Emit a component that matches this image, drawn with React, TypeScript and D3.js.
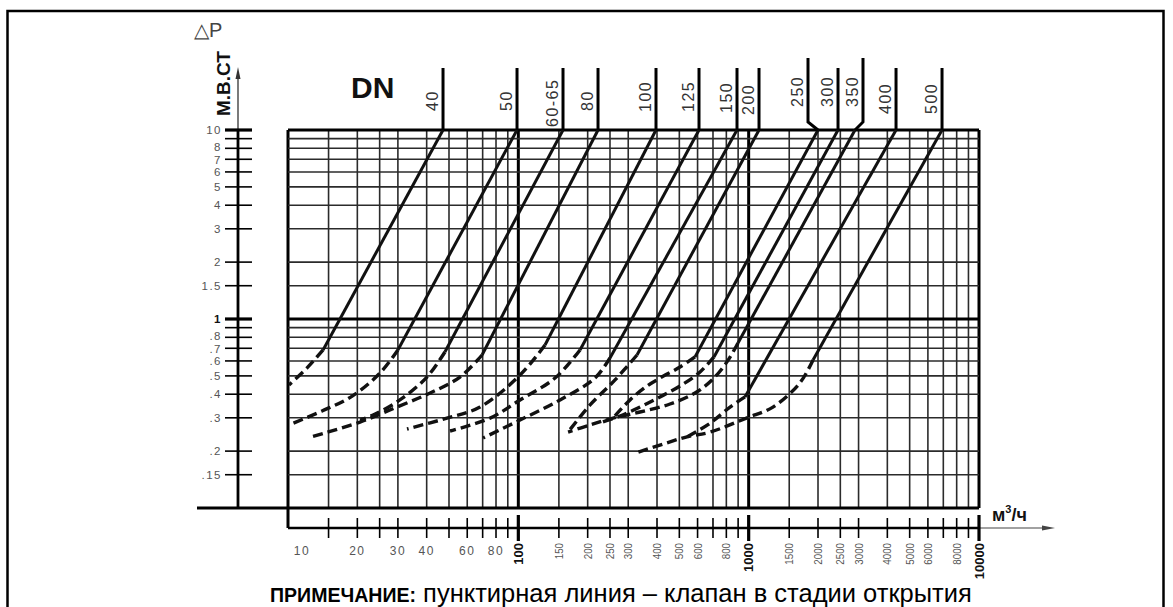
import React from 'react';
import * as d3 from 'd3';

// ---- axis data ----
const flowGrid = [10, 15, 20, 25, 30, 40, 50, 60, 70, 80, 90, 100, 150, 200, 250, 300, 400, 500, 600, 700, 800, 900, 1000, 1500, 2000, 2500, 3000, 4000, 5000, 6000, 7000, 8000, 9000, 10000];
const flowBold = [10, 100, 1000, 10000];
const flowLabelsH = [10, 20, 30, 40, 60, 80];
const flowLabelsV = [100, 150, 200, 250, 300, 400, 500, 600, 800, 1000, 1500, 2000, 2500, 3000, 4000, 5000, 6000, 8000, 10000];

const dpGrid = [10, 9, 8, 7, 6, 5, 4, 3, 2, 1.5, 1, 0.9, 0.8, 0.7, 0.6, 0.5, 0.4, 0.3, 0.2, 0.15, 0.1];
const dpBold = [10, 1];
const dpLabelValues = [10, 8, 7, 6, 5, 4, 3, 2, 1.5, 1, 0.8, 0.7, 0.6, 0.5, 0.4, 0.3, 0.2, 0.15];
const dpLabelTexts = ['10', '8', '7', '6', '5', '4', '3', '2', '1.5', '1', '.8', '.7', '.6', '.5', '.4', '.3', '.2', '.15'];

// ---- curve data (Q m3/h, dP m) ----
const dnNames = ['40', '50', '60-65', '80', '100', '125', '150', '200', '250', '300', '350', '400', '500'];

const solidParts: [number, number][][] = [
  [[47.1, 10], [14.2, 0.686]],
  [[98.7, 10], [30.0, 0.686]],
  [[156.3, 10], [48.0, 0.669]],
  [[221.8, 10], [69.6, 0.645]],
  [[396, 10], [130.6, 0.728]],
  [[608.7, 10], [185.3, 0.686]],
  [[890, 10], [250, 0.622]],
  [[1109, 10], [327.5, 0.645]],
  [[2000, 10], [584.8, 0.63]],
  [[2443, 10], [707, 0.63]],
  [[2895, 10], [899, 0.746]],
  [[4363, 10], [964, 0.387]],
  [[6910, 10], [1903, 0.607]],
];

const dashedParts: [number, number][][] = [
  [[14.2, 0.686], [12.1, 0.551], [10.1, 0.448]],
  [[30.0, 0.686], [25.1, 0.518], [19.0, 0.391], [14.05, 0.326], [10.1, 0.275]],
  [[48.0, 0.669], [40.1, 0.493], [30.6, 0.373], [23.9, 0.314], [20.55, 0.292]],
  [[69.6, 0.645], [55.8, 0.493], [41.4, 0.406], [29.7, 0.342], [20.55, 0.285], [12.58, 0.2375]],
  [[130.6, 0.728], [101.7, 0.505], [68.2, 0.342], [49.0, 0.299], [32.86, 0.2618]],
  [[185.3, 0.686], [144.3, 0.487], [101.7, 0.373], [75.4, 0.299], [50.52, 0.2555]],
  [[250, 0.622], [215.2, 0.487], [151.7, 0.373], [101.7, 0.292], [70.3, 0.2347]],
  [[327.5, 0.645], [263, 0.476], [204.8, 0.351], [164.4, 0.2523]],
  [[584.8, 0.63], [503.5, 0.557], [412.2, 0.487], [361.9, 0.442], [305.4, 0.373], [257.6, 0.299]],
  [[707, 0.63], [615, 0.5245], [503.5, 0.442], [412.2, 0.387], [337.5, 0.342], [276.3, 0.3068], [226.3, 0.282]],
  [[899, 0.746], [805, 0.593], [693, 0.4755], [584.8, 0.406], [455.6, 0.355], [337.5, 0.322], [257.6, 0.299], [204.8, 0.275], [164.4, 0.2523]],
  [[964, 0.387], [830, 0.342], [680, 0.281], [540, 0.238]],
  [[1903, 0.607], [1671, 0.46], [1275, 0.342], [984, 0.3], [680, 0.252], [540, 0.238], [425, 0.218], [321, 0.195]],
];

// leader layout tweaks (pixels)
const leaderShift = [0, 0, 0, 0, 0, 0, 0, 0, -10, 0, 8, 0, 0];
const leaderTop = [68, 68, 68, 68, 68, 68, 68, 68, 58, 68, 58, 68, 68];
const labelBottom = [111, 111, 127, 111, 112, 112, 113, 115, 107, 107, 107, 114, 114];
const yLabelNudge = [0, -1, 1, 0, 0, 0, 0, 0, 0, 0, -1, 1, 0, 0, 0, 0, 0, 0];

const LABEL_FONT = '"Liberation Sans", Arial, sans-serif';

export default function App() {
  const x = d3.scaleLog().domain([10, 10000]).range([288, 979]);
  const y = d3.scaleLog().domain([0.1, 10]).range([508, 130]);
  const solidGen = d3.line<[number, number]>().x(d => x(d[0])).y(d => y(d[1]));
  const dashGen = d3
    .line<[number, number]>()
    .x(d => x(d[0]))
    .y(d => y(d[1]))
    .curve(d3.curveCatmullRom.alpha(0.5));

  const gridColor = '#2b2b2b';
  const x0 = x(10), x1 = x(10000), yTop = y(10), yBot = y(0.1);
  const axisY = 528;
  const yAxisX = 238;

  return (
    <svg width={1173} height={607} style={{ position: 'absolute', left: 0, top: 0, background: '#fff' }}>
      <rect x={0} y={0} width={1173} height={607} fill="#fff" />
      {/* page frame */}
      <rect x={7.5} y={11} width={1156} height={640} fill="none" stroke="#000" strokeWidth={2.5} />

      {/* vertical grid */}
      {flowGrid.map(q => {
        const bold = flowBold.includes(q);
        return (
          <line key={'vg' + q} x1={x(q)} x2={x(q)} y1={yTop} y2={q === 10 ? axisY : yBot}
            stroke={bold ? '#000' : gridColor} strokeWidth={bold ? 3 : 1.6} />
        );
      })}
      {/* horizontal grid */}
      {dpGrid.map(p => {
        const bold = dpBold.includes(p) || p === 0.1;
        return (
          <line key={'hg' + p} x1={p === 0.1 ? 197 : x0} x2={x1} y1={y(p)} y2={y(p)}
            stroke={bold ? '#000' : gridColor} strokeWidth={bold ? 3 : 1.6} />
        );
      })}

      {/* y axis */}
      <line x1={yAxisX} x2={yAxisX} y1={76} y2={yTop} stroke="#333" strokeWidth={1.3} />
      <line x1={yAxisX} x2={yAxisX} y1={yTop} y2={yBot} stroke="#000" strokeWidth={2.8} />
      <path d={`M${yAxisX},67 L${yAxisX - 2.5},79 L${yAxisX + 2.5},79 Z`} fill="#333" />
      {dpGrid.filter(p => p !== 0.1).map(p => {
        const bold = dpBold.includes(p);
        return (
          <line key={'yt' + p} x1={225} x2={252} y1={y(p)} y2={y(p)} stroke="#000" strokeWidth={bold ? 3.2 : 1.6} />
        );
      })}
      {dpLabelValues.map((p, i) => (
        <text key={'yl' + p} x={222} y={y(p) + yLabelNudge[i]} dy="0.36em" textAnchor="end"
          fontFamily={LABEL_FONT} fontSize={11.5} letterSpacing={1.5}
          fontWeight={p === 1 ? 'bold' : 'normal'} fill={p === 1 ? '#111' : '#555'}>
          {dpLabelTexts[i]}
        </text>
      ))}
      <text x={194} y={37} fontFamily={LABEL_FONT} fontSize={20} fill="#444">△P</text>
      <text transform={`translate(230,116) rotate(-90)`} fontFamily={LABEL_FONT} fontSize={19} fontWeight="bold" fill="#111">
        М.В.СТ
      </text>

      {/* x axis */}
      <line x1={x0} x2={x1} y1={axisY} y2={axisY} stroke="#000" strokeWidth={2.6} />
      <line x1={x1} x2={1045} y1={axisY} y2={axisY} stroke="#444" strokeWidth={1.1} />
      <path d={`M1055,${axisY} L1042,${axisY - 2.5} L1042,${axisY + 2.5} Z`} fill="#444" />
      {flowGrid.filter(q => q !== 10).map(q => {
        const bold = flowBold.includes(q);
        return (
          <line key={'xt' + q} x1={x(q)} x2={x(q)} y1={bold ? 515 : 518} y2={bold ? 541 : 538}
            stroke="#000" strokeWidth={bold ? 3.2 : 1.6} />
        );
      })}
      {flowLabelsH.map(q => (
        <text key={'xh' + q} x={q === 10 ? 302 : x(q)} y={555} textAnchor="middle"
          fontFamily={LABEL_FONT} fontSize={12} letterSpacing={1.5} fill="#555">
          {q}
        </text>
      ))}
      {flowLabelsV.map(q => {
        const bold = flowBold.includes(q);
        return (
          <text key={'xv' + q} transform={`translate(${x(q) + (bold ? 4.5 : 4)},543) rotate(-90) scale(${bold ? 1 : 0.85},1)`}
            textAnchor="end" fontFamily={LABEL_FONT} fontSize={bold ? 13 : 11.5}
            fontWeight={bold ? 'bold' : 'normal'} fill={bold ? '#111' : '#555'}>
            {q}
          </text>
        );
      })}
      <text x={992} y={521} fontFamily={LABEL_FONT} fontSize={18} fontWeight="bold" fill="#111">
        м<tspan fontSize={11} dy={-8}>3</tspan><tspan dy={8}>/ч</tspan>
      </text>

      {/* DN heading */}
      <text x={351} y={98} fontFamily={LABEL_FONT} fontSize={30} fontWeight="bold" fill="#111">DN</text>

      {/* curves */}
      {solidParts.map((pts, i) => (
        <path key={'s' + i} d={solidGen(pts) || ''} fill="none" stroke="#111" strokeWidth={3} />
      ))}
      {dashedParts.map((pts, i) => (
        <path key={'d' + i} d={dashGen(pts) || ''} fill="none" stroke="#111" strokeWidth={3.4} strokeDasharray="10,5" />
      ))}

      {/* DN leaders and labels */}
      {dnNames.map((n, i) => {
        const lx = x(solidParts[i][0][0]);
        const ux = lx + leaderShift[i];
        const kinkY = leaderShift[i] !== 0 ? 122 : yTop;
        const d = `M${ux},${leaderTop[i]} L${ux},${kinkY} L${lx},${yTop}`;
        return (
          <g key={'dn' + n}>
            <path d={d} fill="none" stroke="#000" strokeWidth={3} />
            <text transform={`translate(${ux - 5},${labelBottom[i]}) rotate(-90)`} fontFamily={LABEL_FONT}
              fontSize={16} letterSpacing={1.5} fill="#333">
              {n}
            </text>
          </g>
        );
      })}

      {/* note */}
      <text x={270} y={602} fontFamily={LABEL_FONT} fill="#000">
        <tspan fontSize={21} fontWeight="bold" textLength={146} lengthAdjust="spacingAndGlyphs">ПРИМЕЧАНИЕ:</tspan>
        <tspan fontSize={25.5}> пунктирная линия – клапан в стадии открытия</tspan>
      </text>
    </svg>
  );
}
